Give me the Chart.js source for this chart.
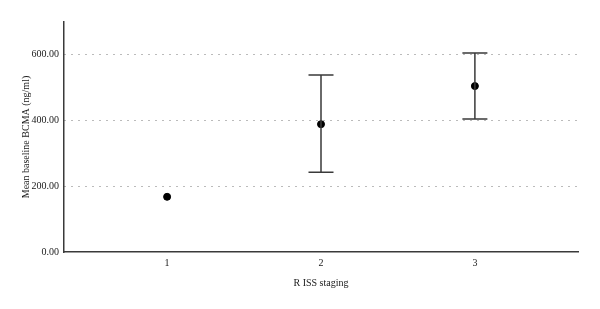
<!DOCTYPE html>
<html>
<head>
<meta charset="utf-8">
<script src="https://cdn.jsdelivr.net/npm/chart.js@4/dist/chart.umd.min.js"></script>
<style>
  html, body { margin: 0; padding: 0; background: #fff; }
  #wrap { width: 600px; height: 309px; }
</style>
</head>
<body>
<div id="wrap"><canvas id="myChart"></canvas></div>
<script>
const stages = [1, 2, 3];
const meanValues = [168, 389, 505];
const lowerValues = [null, 243, 405];
const upperValues = [null, 539, 606];
const yTicks = [0, 200, 400, 600];

const LINE_COLOR = '#3a3a3a';
const FONT = "'Liberation Serif', 'DejaVu Serif', serif";

// draws the error bars (whiskers + caps) using the chart's scales
const errorBars = {
    id: 'errorBars',
    afterDatasetsDraw(chart) {
        const ctx = chart.ctx;
        const x = chart.scales.x;
        const y = chart.scales.y;
        ctx.save();
        ctx.strokeStyle = LINE_COLOR;
        ctx.lineWidth = 1.5;
        for (let i = 0; i < stages.length; i++) {
            if (lowerValues[i] == null) continue;
            const px = x.getPixelForValue(stages[i]);
            const top = y.getPixelForValue(upperValues[i]);
            const bot = y.getPixelForValue(lowerValues[i]);
            ctx.beginPath();
            ctx.moveTo(px, top);
            ctx.lineTo(px, bot);
            ctx.moveTo(px - 12.5, top);
            ctx.lineTo(px + 12.5, top);
            ctx.moveTo(px - 12.5, bot);
            ctx.lineTo(px + 12.5, bot);
            ctx.stroke();
        }
        ctx.restore();
    }
};

const ctx = document.getElementById('myChart').getContext('2d');
new Chart(ctx, {
    type: 'scatter',
    data: {
        datasets: [{
            data: stages.map((s, i) => ({ x: s, y: meanValues[i] })),
            backgroundColor: '#000',
            borderColor: '#000',
            pointRadius: 3.5,
            pointHoverRadius: 3.5
        }]
    },
    options: {
        responsive: true,
        maintainAspectRatio: false,
        animation: false,
        events: [],
        layout: { padding: { top: 22, right: 22, left: 0, bottom: 0 } },
        plugins: { legend: { display: false }, tooltip: { enabled: false } },
        scales: {
            x: {
                type: 'linear',
                min: 0.33,
                max: 3.67,
                afterBuildTicks: (axis) => { axis.ticks = stages.map(v => ({ value: v })); },
                afterFit: (axis) => { axis.height = 57; },
                grid: { display: false, drawTicks: false },
                border: { display: true, color: LINE_COLOR, width: 1.5 },
                ticks: {
                    color: '#1a1a1a',
                    font: { family: FONT, size: 10 },
                    padding: 5
                },
                title: {
                    display: true,
                    text: 'R ISS staging',
                    color: '#1a1a1a',
                    font: { family: FONT, size: 10 },
                    padding: { top: 0, bottom: 20 }
                }
            },
            y: {
                min: 0,
                max: 700,
                afterBuildTicks: (axis) => { axis.ticks = yTicks.map(v => ({ value: v })); },
                afterFit: (axis) => { axis.width = 64; },
                grid: {
                    drawTicks: false,
                    color: (c) => c.tick && c.tick.value === 0 ? 'rgba(0,0,0,0)' : '#777',
                    lineWidth: 1
                },
                border: { display: true, color: LINE_COLOR, width: 1.5, dash: [1, 6] },
                ticks: {
                    color: '#1a1a1a',
                    font: { family: FONT, size: 10 },
                    padding: 5,
                    callback: (v) => v.toFixed(2)
                },
                title: {
                    display: true,
                    text: 'Mean baseline BCMA (ng/ml)',
                    color: '#1a1a1a',
                    font: { family: FONT, size: 10 },
                    padding: { top: 20, bottom: 4 }
                }
            }
        }
    },
    plugins: [errorBars]
});
</script>
</body>
</html>
